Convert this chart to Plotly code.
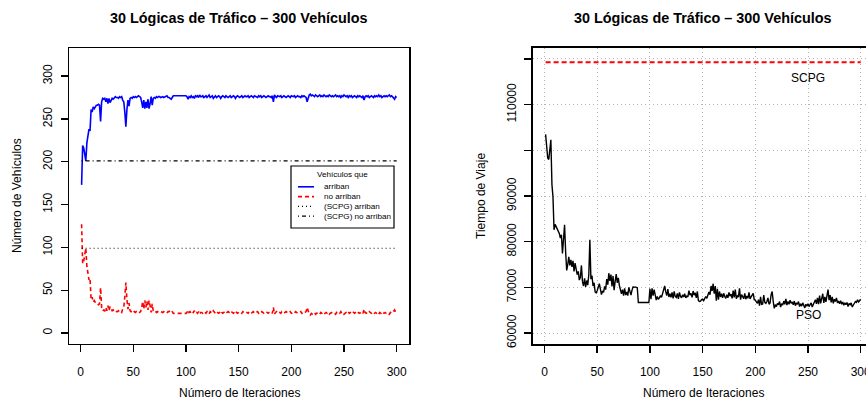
import plotly.graph_objects as go

# ---------------- data ----------------
iteraciones = list(range(1, 301))

arriban = [
    173, 219, 216, 205, 201, 222, 231, 238, 236, 261,
    258, 264, 262, 265, 266, 266, 267, 266, 247, 270,
    274, 273, 274, 270, 274, 268, 274, 269, 272, 274,
    273, 275, 276, 275, 275, 274, 276, 275, 276, 272,
    270, 258, 241, 261, 272, 265, 274, 275, 274, 276,
    275, 276, 275, 276, 277, 276, 275, 270, 263, 272,
    262, 270, 263, 273, 262, 268, 276, 266, 274, 275,
    274, 276, 275, 276, 276, 275, 276, 276, 275, 276,
    277, 277, 275, 275, 274, 273, 275, 277, 277, 277,
    277, 277, 277, 277, 277, 277, 277, 277, 277, 277,
    276, 273, 276, 275, 277, 275, 276, 274, 277, 276,
    277, 275, 278, 276, 276, 277, 275, 276, 277, 275,
    276, 278, 275, 276, 277, 274, 276, 277, 275, 276,
    277, 276, 274, 276, 277, 276, 275, 277, 276, 275,
    276, 277, 275, 276, 277, 276, 274, 276, 277, 276,
    275, 276, 277, 275, 276, 277, 276, 276, 277, 275,
    276, 277, 276, 275, 277, 276, 276, 275, 277, 276,
    277, 275, 276, 277, 276, 275, 276, 277, 276, 276,
    275, 277, 270, 278, 276, 275, 277, 276, 276, 277,
    275, 276, 277, 276, 275, 276, 277, 276, 275, 277,
    276, 276, 277, 275, 276, 277, 276, 276, 275, 277,
    276, 277, 276, 275, 270, 276, 278, 279, 277, 278,
    277, 276, 278, 277, 276, 277, 278, 276, 277, 276,
    278, 277, 276, 277, 276, 278, 277, 276, 277, 276,
    277, 278, 276, 277, 276, 277, 275, 277, 276, 278,
    277, 276, 277, 275, 277, 276, 277, 275, 276, 277,
    276, 275, 277, 276, 277, 276, 275, 277, 272, 276,
    277, 276, 277, 275, 276, 277, 276, 275, 277, 276,
    277, 276, 278, 276, 277, 275, 276, 277, 276, 277,
    276, 277, 278, 276, 277, 276, 275, 273, 276, 275,
]

no_arriban = [
    127, 81, 84, 95, 99, 78, 69, 62, 64, 39,
    42, 36, 38, 35, 34, 34, 33, 34, 53, 30,
    26, 27, 26, 30, 26, 32, 26, 31, 28, 26,
    27, 25, 24, 25, 25, 26, 24, 25, 24, 28,
    30, 42, 59, 39, 28, 35, 26, 25, 26, 24,
    25, 24, 25, 24, 23, 24, 25, 30, 37, 28,
    38, 30, 37, 27, 38, 32, 24, 34, 26, 25,
    26, 24, 25, 24, 24, 25, 24, 24, 25, 24,
    23, 23, 25, 25, 26, 27, 25, 23, 23, 23,
    23, 23, 23, 23, 23, 23, 23, 23, 23, 23,
    24, 27, 24, 25, 23, 25, 24, 26, 23, 24,
    23, 25, 22, 24, 24, 23, 25, 24, 23, 25,
    24, 22, 25, 24, 23, 26, 24, 23, 25, 24,
    23, 24, 26, 24, 23, 24, 25, 23, 24, 25,
    24, 23, 25, 24, 23, 24, 26, 24, 23, 24,
    25, 24, 23, 25, 24, 23, 24, 24, 23, 25,
    24, 23, 24, 25, 23, 24, 24, 25, 23, 24,
    23, 25, 24, 23, 24, 25, 24, 23, 24, 24,
    25, 23, 30, 22, 24, 25, 23, 24, 24, 23,
    25, 24, 23, 24, 25, 24, 23, 24, 25, 23,
    24, 24, 23, 25, 24, 23, 24, 24, 25, 23,
    24, 23, 24, 25, 30, 24, 22, 21, 23, 22,
    23, 24, 22, 23, 24, 23, 22, 24, 23, 24,
    22, 23, 24, 23, 24, 22, 23, 24, 23, 24,
    23, 22, 24, 23, 24, 23, 25, 23, 24, 22,
    23, 24, 23, 25, 23, 24, 23, 25, 24, 23,
    24, 25, 23, 24, 23, 24, 25, 23, 28, 24,
    23, 24, 23, 25, 24, 23, 24, 25, 23, 24,
    23, 24, 22, 24, 23, 25, 24, 23, 24, 23,
    24, 23, 22, 24, 23, 24, 25, 27, 24, 25,
]

tiempo_pso = [
    103500, 100500, 98300, 98000, 100500, 102300, 92500, 89800, 82600, 83800,
    83300, 82800, 82500, 81800, 80800, 81500, 77400, 80500, 83700, 77800,
    73700, 75000, 76700, 74800, 76000, 74500, 75800, 73500, 75300, 74000,
    72800, 73500, 71600, 72200, 74800, 71200, 70300, 72000, 70100, 71500,
    70500, 72800, 80400, 71800, 72600, 70300, 71000, 69000, 68800, 69300,
    70000, 70800, 69600, 68400, 69200, 68900, 70200, 69500, 71800, 70600,
    73100, 71400, 72800, 70200, 72500, 69400, 71300, 72900, 71000, 72100,
    70400, 69300, 68600, 69500, 68200, 69800, 68300, 69000, 68200, 70000,
    68800, 68300, 69400, 70100, 70000, 70100, 70000, 69900, 66700, 66700,
    66700, 66700, 66700, 66700, 66700, 66700, 66700, 66700, 66700, 69700,
    67400, 69800, 68200, 69500, 67700, 67200, 68000, 67400, 67700, 68200,
    67800, 68500, 69300, 70300, 69000, 68200, 69600, 67900, 68600, 67800,
    68900, 67600, 69100, 68000, 67800, 68700, 67500, 68900, 68000, 67700,
    68400, 67900, 68600, 67700, 68100, 67900, 69300, 68300, 68700, 67800,
    69200, 68300, 68800, 67700, 69100, 67100, 66900, 67000, 67300, 67400,
    67100, 67500, 68000, 67600, 68400, 69000, 68400, 70300, 69200, 70800,
    68600, 70300, 67100, 69700, 67300, 69100, 67900, 68600, 67700, 68700,
    68000, 67600, 68400, 67700, 68900, 68100, 68500, 67600, 69300, 67800,
    69500, 67500, 68100, 67900, 69800, 67300, 68400, 67800, 67500, 68700,
    67400, 68100, 67600, 68900, 67500, 67900, 68200, 68700, 67300, 67200,
    66800, 66500, 67300, 66000, 67900, 66200, 66400, 68300, 66700, 66500,
    66900, 67700, 66300, 66600, 68400, 69100, 66900, 65400, 66200, 65800,
    66500, 66200, 66900, 65700, 66400, 66100, 67000, 66300, 67500, 66100,
    66900, 66300, 67200, 66500, 66800, 66200, 67000, 66000, 66600, 66300,
    66900, 65800, 66400, 65900, 66600, 66200, 65500, 66300, 65900, 66400,
    65800, 66200, 66600, 65700, 66300, 66800, 67300, 66400, 67700, 66300,
    68200, 66500, 67400, 68600, 66600, 67900, 66800, 67800, 69500, 67200,
    68300, 66700, 67900, 66500, 67400, 66900, 67700, 66600, 67000, 66400,
    67100, 66300, 66800, 66100, 66600, 66200, 66700, 65800, 66500, 66200,
    66600, 65700, 66100, 66400, 66900, 66700, 67300, 66800, 67100, 67400,
]

scpg_arriban = 99
scpg_no_arriban = 201
scpg_tiempo = 119300

x_ticks = [0, 50, 100, 150, 200, 250, 300]
y1_ticks = [0, 50, 100, 150, 200, 250, 300]
y2_ticks = [60000, 70000, 80000, 90000, 100000, 110000, 120000]
y2_ticktext = ["60000", "70000", "80000", "90000", "", "110000", ""]

titulo = "30 Lógicas de Tráfico – 300 Vehículos"
xlabel = "Número de Iteraciones"
ylabel1 = "Número de Vehículos"
ylabel2 = "Tiempo de Viaje"
legend_title = "Vehículos que"
legend_labels = ["arriban", "no arriban", "(SCPG) arriban", "(SCPG) no arriban"]

# ---------------- figure ----------------
W, H = 866, 401
FONT = "Liberation Sans, Arial, Helvetica, sans-serif"


def fx(p):
    return p / W


def fy(p):
    return 1 - p / H


x_span = [iteraciones[0], iteraciones[-1]]

fig = go.Figure()
fig.add_trace(go.Scatter(x=iteraciones, y=arriban, mode="lines",
                         line=dict(color="#0000ff", width=1.6),
                         xaxis="x", yaxis="y", name=legend_labels[0]))
fig.add_trace(go.Scatter(x=iteraciones, y=no_arriban, mode="lines",
                         line=dict(color="#ff0000", width=1.6, dash="4px,3px"),
                         xaxis="x", yaxis="y", name=legend_labels[1]))
fig.add_trace(go.Scatter(x=x_span, y=[scpg_arriban] * 2, mode="lines",
                         line=dict(color="black", width=1.2, dash="1px,3px"),
                         xaxis="x", yaxis="y", name=legend_labels[2]))
fig.add_trace(go.Scatter(x=x_span, y=[scpg_no_arriban] * 2, mode="lines",
                         line=dict(color="black", width=1.2, dash="1px,3px,4px,3px"),
                         xaxis="x", yaxis="y", name=legend_labels[3]))

fig.add_trace(go.Scatter(x=x_span, y=[scpg_tiempo] * 2, mode="lines",
                         line=dict(color="#ff0000", width=2, dash="5px,3px"),
                         xaxis="x2", yaxis="y2", name="SCPG"))
fig.add_trace(go.Scatter(x=iteraciones, y=tiempo_pso, mode="lines",
                         line=dict(color="black", width=1.4),
                         xaxis="x2", yaxis="y2", name="PSO"))

ydom = [fy(344), fy(48)]
tickfont = dict(family=FONT, size=12, color="black")
common = dict(ticks="outside", ticklen=7, tickcolor="black", showline=True,
              linecolor="black", zeroline=False, tickfont=tickfont, automargin=False)

fig.update_layout(
    width=W, height=H, autosize=False,
    margin=dict(l=0, r=0, t=0, b=0, pad=0, autoexpand=False),
    paper_bgcolor="white", plot_bgcolor="white",
    showlegend=False, hovermode=False,
    font=dict(family=FONT, size=12, color="black"),
    xaxis=dict(domain=[fx(69), fx(409.3)], range=[-10.96, 311.96], anchor="y",
               tickmode="array", tickvals=x_ticks, mirror=True, showgrid=False,
               linewidth=1.4, tickwidth=1.3, ticklabelstandoff=9, **common),
    yaxis=dict(domain=ydom, range=[-12.8, 332.8], anchor="x",
               tickmode="array", tickvals=y1_ticks, tickangle=-90, mirror=True,
               showgrid=False, linewidth=1.4, tickwidth=1.3, ticklabelstandoff=4,
               **common),
    xaxis2=dict(domain=[fx(533), 1.0], range=[-10.96, 305.04], anchor="y2",
                tickmode="array", tickvals=x_ticks, mirror=True, showgrid=True,
                gridcolor="#b4b4b4", griddash="1px,3px", gridwidth=1,
                linewidth=2, tickwidth=1.6, ticklabelstandoff=9,
                ticklabeloverflow="allow", **common),
    yaxis2=dict(domain=ydom, range=[57600, 122400], anchor="x2",
                tickmode="array", tickvals=y2_ticks, ticktext=y2_ticktext,
                tickangle=-90, mirror=False, showgrid=True,
                gridcolor="#b4b4b4", griddash="1px,3px", gridwidth=1,
                linewidth=2, tickwidth=1.6, ticklabelstandoff=3, **common),
)

ann = []
for cx in (239, 703):
    ann.append(dict(text="<b>" + titulo + "</b>", x=fx(cx), y=fy(18.5), xref="paper",
                    yref="paper", showarrow=False, xanchor="center", yanchor="middle",
                    font=dict(family=FONT, size=14.4, color="black")))
    ann.append(dict(text=xlabel, x=fx(cx), y=fy(393), xref="paper", yref="paper",
                    showarrow=False, xanchor="center", yanchor="middle",
                    font=dict(family=FONT, size=12, color="black")))
ann.append(dict(text=ylabel1, x=fx(17), y=fy(196), xref="paper", yref="paper",
                showarrow=False, xanchor="center", yanchor="middle", textangle=-90,
                font=dict(family=FONT, size=12, color="black")))
ann.append(dict(text=ylabel2, x=fx(481), y=fy(196), xref="paper", yref="paper",
                showarrow=False, xanchor="center", yanchor="middle", textangle=-90,
                font=dict(family=FONT, size=12, color="black")))
ann.append(dict(text="SCPG", x=250, y=115800, xref="x2", yref="y2", showarrow=False,
                xanchor="center", yanchor="middle",
                font=dict(family=FONT, size=12, color="black")))
ann.append(dict(text="PSO", x=250, y=63900, xref="x2", yref="y2", showarrow=False,
                xanchor="center", yanchor="middle",
                font=dict(family=FONT, size=12, color="black")))

# manual legend (R style)
LF = dict(family=FONT, size=8.1, color="black")
ann.append(dict(text=legend_title, x=fx(342.5), y=fy(174), xref="paper", yref="paper",
                showarrow=False, xanchor="center", yanchor="middle", font=LF))
leg_rows = [186.8, 196.6, 206.4, 216.2]
leg_styles = [("#0000ff", 1.6, "solid"), ("#ff0000", 1.6, "4px,3px"),
              ("black", 1.2, "1px,3px"), ("black", 1.2, "1px,3px,4px,3px")]
shapes = [dict(type="rect", xref="paper", yref="paper", x0=fx(291), x1=fx(394),
               y0=fy(228), y1=fy(166), line=dict(color="black", width=1.2),
               fillcolor="white", layer="above")]
for yy, lab, (c, w, d) in zip(leg_rows, legend_labels, leg_styles):
    shapes.append(dict(type="line", xref="paper", yref="paper", x0=fx(298), x1=fx(314),
                       y0=fy(yy), y1=fy(yy), line=dict(color=c, width=w, dash=d),
                       layer="above"))
    ann.append(dict(text=lab, x=fx(322), y=fy(yy), xref="paper", yref="paper",
                    showarrow=False, xanchor="left", yanchor="middle", font=LF))

fig.update_layout(annotations=ann, shapes=shapes)

post = (
    "document.documentElement.style.margin='0';"
    "document.documentElement.style.overflow='hidden';"
    "document.body.style.margin='0';"
    "document.body.style.overflow='hidden';"
)
fig.write_html(
    "out.html",
    config={"displayModeBar": False, "staticPlot": True},
    post_script=post,
)
